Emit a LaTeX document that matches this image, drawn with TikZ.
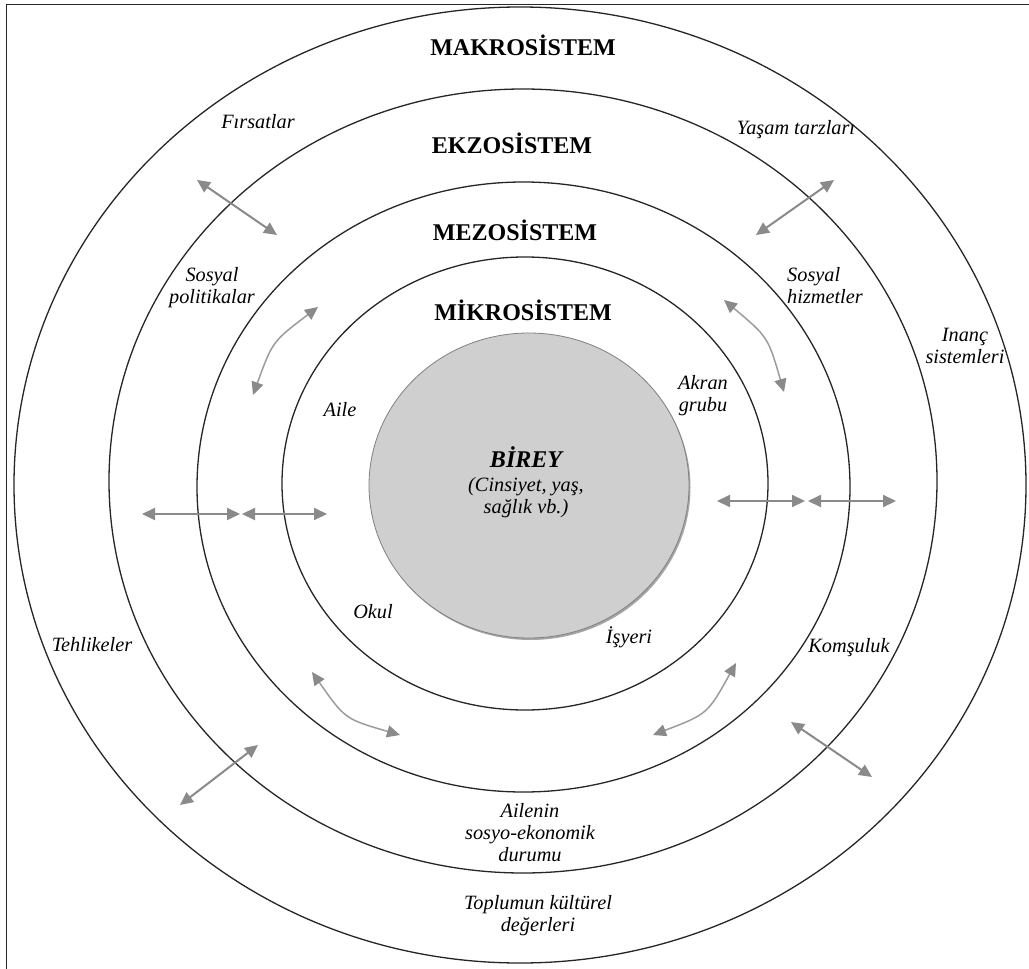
\documentclass[tikz,border=0pt]{standalone}
\usepackage{fontspec}
\setmainfont{Liberation Serif}
\usetikzlibrary{arrows.meta}
\definecolor{arrgray}{HTML}{8A8A8A}
\definecolor{arrgraylt}{HTML}{9C9C9C}
\definecolor{ringcol}{HTML}{262626}
\tikzset{
  ring/.style={draw=ringcol, line width=1.3pt},
  syslabel/.style={font=\fontsize{24}{28}\selectfont\bfseries, inner sep=0pt},
  itlabel/.style={font=\fontsize{20.3}{22}\selectfont\itshape, inner sep=0pt, align=center},
  dbl/.style={draw=arrgray, line width=2pt, {Triangle[length=13pt,width=12pt]}-{Triangle[length=13pt,width=12pt]}},
  dblc/.style={draw=arrgraylt, line width=1.5pt, {Triangle[length=13pt,width=12pt,color=arrgray]}-{Triangle[length=13pt,width=12pt,color=arrgray]}}
}
\begin{document}
\begin{tikzpicture}[x=1pt,y=-1pt]
\useasboundingbox (0,0) rectangle (1029,969);
\clip (0,0) rectangle (1029,969);
\fill[white] (0,0) rectangle (1029,969);
% frame (only left and top visible)
\draw[line width=1.6pt, black!85] (6.5,1100) -- (6.5,4.5) -- (1100,4.5);

% rings
\draw[ring] (520,485) ellipse [x radius=506, y radius=478];
\draw[ring] (523,481) ellipse [x radius=414, y radius=392];
\draw[ring] (523.5,487) ellipse [x radius=326.5, y radius=305];
\draw[ring] (525,483.5) ellipse [x radius=243, y radius=226.5];

% individual
\fill[black!35] (530.5,487.5) ellipse [x radius=160, y radius=152.5];
\filldraw[fill=black!19, draw=black!50, line width=0.8pt] (529,485.5) ellipse [x radius=160, y radius=152.5];

% system labels
\node[syslabel] (makro) at (523,45) {MAKROSİSTEM};
\node[syslabel] (ekzo) at (512,143) {EKZOSİSTEM};
\node[syslabel] (mezo) at (515,230) {MEZOSİSTEM};
\node[syslabel] (mikro) at (523,310) {MİKROSİSTEM};

% centre
\node[font=\fontsize{24}{28}\selectfont\bfseries\itshape, inner sep=0pt] (birey) at (526,457) {BİREY};
\node[itlabel] (bireysub) at (526,498) {(Cinsiyet, yaş,\\sağlık vb.)};

% item labels
\node[itlabel] (firsat) at (258,122) {Fırsatlar};
\node[itlabel] (yasam) at (796,130) {Yaşam tarzları};
\node[itlabel] (sospol) at (212,288) {Sosyal\\politikalar};
\node[itlabel, align=left, anchor=west] (soshiz) at (787,286) {Sosyal\\hizmetler};
\node[itlabel] (inanc) at (965,346) {Inanç\\sistemleri};
\node[itlabel] (aile) at (340,410) {Aile};
\node[itlabel] (akran) at (703,396) {Akran\\grubu};
\node[itlabel] (okul) at (373,612) {Okul};
\node[itlabel] (isyeri) at (629,637) {İşyeri};
\node[itlabel] (komsu) at (849,648) {Komşuluk};
\node[itlabel] (tehlike) at (92,645) {Tehlikeler};
\node[itlabel] (ailenin) at (530,833) {Ailenin\\sosyo-ekonomik\\durumu};
\node[itlabel] (toplum) at (538,916) {Toplumun kültürel\\değerleri};

% arrow end points
\coordinate (a1s) at (197,180);  \coordinate (a1e) at (277,235);
\coordinate (a2s) at (318,307);  \coordinate (a2e) at (253,395);
\coordinate (a2c) at (272.5,341.5);
\coordinate (a3s) at (834,180);  \coordinate (a3e) at (756,235);
\coordinate (a4s) at (724,300);  \coordinate (a4e) at (784,392);
\coordinate (a4c) at (768,337);
\coordinate (h1s) at (142,514);  \coordinate (h1e) at (240,514);
\coordinate (h2s) at (242,514);  \coordinate (h2e) at (327,514);
\coordinate (h3s) at (717,501);  \coordinate (h3e) at (805,501);
\coordinate (h4s) at (808,501);  \coordinate (h4e) at (896,501);
\coordinate (a7s) at (312,672);  \coordinate (a7e) at (400,735);
\coordinate (a7c) at (345,719);
\coordinate (a8s) at (258,745);  \coordinate (a8e) at (180,805);
\coordinate (a9s) at (736,663);  \coordinate (a9e) at (653,735);
\coordinate (a9c) at (707.5,714);
\coordinate (a10s) at (791,722); \coordinate (a10e) at (872,777);

% arrows
\draw[dbl] (a1s) -- (a1e);
\draw[dblc] (a2s) .. controls (a2c) .. (a2e);
\draw[dbl] (a3s) -- (a3e);
\draw[dblc] (a4s) .. controls (a4c) .. (a4e);
\draw[dbl] (h1s) -- (h1e);
\draw[dbl] (h2s) -- (h2e);
\draw[dbl] (h3s) -- (h3e);
\draw[dbl] (h4s) -- (h4e);
\draw[dblc] (a7s) .. controls (a7c) .. (a7e);
\draw[dbl] (a8s) -- (a8e);
\draw[dblc] (a9s) .. controls (a9c) .. (a9e);
\draw[dbl] (a10s) -- (a10e);
\end{tikzpicture}
\end{document}
